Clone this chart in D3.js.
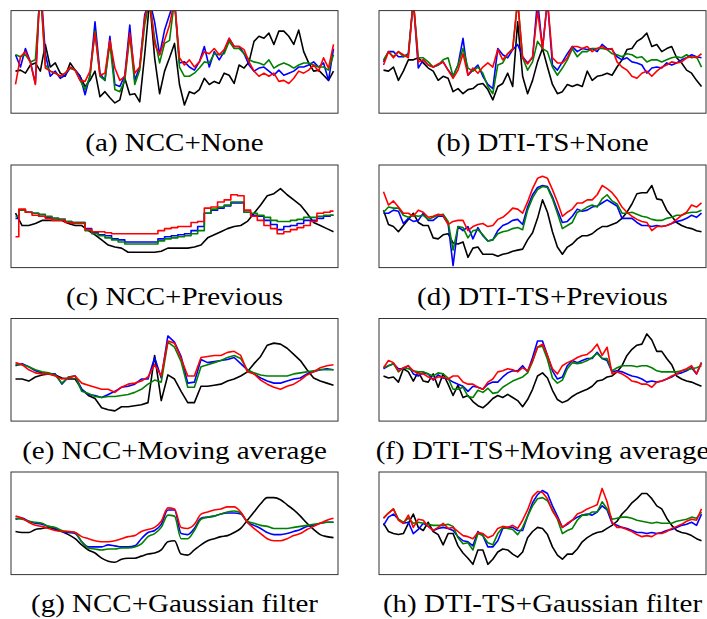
<!DOCTYPE html>
<html>
<head>
<meta charset="utf-8">
<script src="https://cdn.jsdelivr.net/npm/d3@7"></script>
<style>
  html, body { margin: 0; padding: 0; background: #fff; }
  svg { display: block; }
</style>
</head>
<body>
<svg id="chart" width="707" height="619"></svg>
<script>
// Similarity score per frame (0-100 scale, values above 100 run off the top of a panel).
// Series order in every panel: reference (black), blue, green, red.

// (a) NCC + None
const nccNoneBlack = [41,42,39,47,49,41,67,45,49,39,36,49,42,36,26,32,41,16,21,15,10,13,34,18,19,11,57,110,54,19,41,54,68,28,8,21,19,23,34,28,31,29,39,37,29,47,44,50,70,75,73,78,67,80,80,75,67,81,60,49,41,42,37,32,41];
const nccNoneBlue  = [57,45,63,50,29,130,58,36,41,34,37,44,42,36,18,37,89,39,32,75,28,26,37,86,32,45,96,110,89,57,81,96,110,49,50,45,42,50,65,45,60,52,60,73,65,65,58,47,41,44,45,41,37,42,37,39,41,45,45,47,50,45,49,32,63];
const nccNoneGreen = [57,55,57,50,52,120,47,41,39,36,39,44,42,32,23,36,80,36,32,68,23,21,32,76,28,42,86,110,73,49,68,71,110,45,36,36,39,44,50,49,58,57,58,70,63,63,58,52,50,49,47,52,44,47,49,47,44,47,49,49,47,45,45,42,57];
const nccNoneRed   = [28,55,60,49,28,130,44,41,39,36,39,45,42,32,31,41,78,37,39,71,44,32,36,78,39,45,93,110,67,57,71,86,110,54,47,52,45,50,60,58,63,57,62,73,65,65,62,50,41,36,39,36,39,31,32,29,34,41,39,42,47,41,54,44,67];

// (b) DTI-TS + None
const dtiNoneBlack = [42,41,45,32,41,52,52,54,49,44,41,32,36,34,21,24,19,23,24,28,29,23,13,26,29,39,26,89,36,19,32,50,63,45,28,19,21,28,26,28,26,41,32,36,37,39,37,45,52,62,63,70,73,78,65,67,60,63,65,54,49,42,39,32,26];
const dtiNoneBlue  = [50,60,60,55,55,58,110,44,52,47,45,47,50,42,36,47,73,37,42,47,36,28,24,63,57,54,62,67,55,49,54,110,63,110,47,42,50,58,65,60,63,62,63,60,67,63,62,55,52,54,50,49,47,39,44,45,44,49,47,49,52,54,57,55,54];
const dtiNoneGreen = [52,60,55,60,55,57,110,54,54,50,45,47,52,54,36,47,63,44,41,45,39,26,19,47,49,58,63,110,54,42,50,70,63,60,45,37,44,52,63,55,60,60,63,63,63,62,58,57,55,58,57,54,55,50,52,52,50,52,54,55,54,57,54,55,45];
const dtiNoneRed   = [47,60,54,60,57,54,110,50,52,47,45,48,50,42,34,42,58,37,44,39,45,49,45,62,52,58,62,110,54,48,55,100,63,110,54,49,49,54,65,65,63,65,60,63,65,62,63,50,45,42,36,34,39,41,36,41,45,47,50,49,50,54,55,54,58];

// (c) NCC + Previous
const nccPrevBlack = [53,41,41,43,46,46,46,46,43,41,41,36,32,27,22,20,19,15,15,15,15,15,16,19,19,19,19,20,22,29,32,35,38,40,41,45,53,61,70,72,77,71,66,61,53,44,41,38,35];
const nccPrevBlue  = [48,56,54,53,50,49,48,47,45,44,44,38,34,32,31,28,27,25,25,25,25,25,28,30,31,32,33,36,40,53,56,58,60,63,63,54,51,50,46,42,37,40,41,43,46,46,48,50,51];
const nccPrevGreen = [50,56,54,53,52,50,48,47,45,44,44,36,33,31,29,27,25,23,23,23,23,23,26,28,29,30,31,33,36,53,57,59,61,64,64,54,53,51,49,46,45,45,46,47,49,49,50,51,51];
const nccPrevRed   = [30,57,54,51,50,48,46,46,44,43,43,37,35,35,34,33,33,33,33,33,33,33,36,38,39,40,40,44,45,58,59,64,66,71,70,56,50,46,41,38,33,35,37,39,41,45,53,54,55];

// (d) DTI-TS + Previous
const dtiPrevBlack = [56,42,40,35,41,47,53,44,41,41,29,28,32,33,24,23,25,10,19,20,13,13,13,11,13,14,16,17,18,27,34,48,66,54,35,20,13,20,23,28,31,31,33,37,40,40,42,44,48,54,62,72,73,73,80,67,66,56,50,44,41,39,38,36,35];
const dtiPrevBlue  = [53,53,56,55,43,48,45,46,53,46,46,50,50,43,2,40,36,40,28,39,31,26,27,36,41,43,46,47,42,59,71,78,80,79,69,56,44,45,50,57,55,56,59,60,63,66,63,60,48,48,48,44,41,41,40,41,40,41,43,45,46,48,51,49,53];
const dtiPrevGreen = [54,59,58,58,51,49,51,50,51,47,49,51,52,45,17,40,39,29,36,37,32,26,27,33,35,36,38,39,37,56,68,76,79,78,67,53,38,41,44,54,56,59,61,59,67,71,65,62,53,53,54,52,50,49,47,46,46,48,49,51,51,53,54,54,56];
const dtiPrevRed   = [74,61,65,59,53,53,50,56,54,49,50,52,51,42,45,46,46,36,40,42,43,40,41,47,49,53,58,57,53,64,77,87,89,87,76,64,50,54,57,63,63,66,66,71,80,77,73,67,59,54,50,47,45,44,36,40,40,41,43,47,51,54,61,59,63];

// (e) NCC + Moving average
const nccMavgBlack = [41,41,39,43,45,46,45,42,41,41,31,25,22,13,11,10,14,14,15,16,18,64,20,45,41,29,18,18,34,34,35,36,39,41,44,48,56,63,74,76,75,71,65,59,50,42,39,37,35];
const nccMavgBlue  = [54,56,53,49,47,46,46,36,43,44,31,26,25,23,26,29,33,34,36,41,41,62,42,83,77,63,37,38,60,57,58,59,60,62,56,50,46,42,39,37,37,39,41,42,46,48,50,51,50];
const nccMavgGreen = [55,55,53,50,48,47,45,37,43,44,29,27,24,23,24,24,25,26,28,31,36,40,38,77,72,58,33,33,53,55,57,59,62,64,61,50,47,45,44,44,44,44,46,47,48,49,50,50,50];
const nccMavgRed   = [57,55,50,47,46,46,44,41,42,44,37,35,33,31,31,28,33,36,37,39,43,55,44,78,76,61,44,44,62,63,64,64,67,68,64,48,46,40,36,33,31,34,36,40,45,48,52,54,55];

// (f) DTI-TS + Moving average
const dtiMavgBlack = [44,42,43,38,51,48,39,48,39,38,46,33,46,36,25,35,23,25,19,15,13,17,22,25,23,26,23,20,14,21,31,44,47,42,30,21,18,20,24,27,29,31,34,39,40,43,44,48,54,64,70,74,75,85,79,68,68,61,55,44,41,39,38,36,34];
const dtiMavgBlue  = [51,54,56,51,51,54,46,44,47,46,40,45,42,41,38,36,34,29,34,33,31,36,38,38,43,47,49,49,54,48,62,78,78,64,49,41,43,54,59,57,59,61,61,67,61,59,48,49,48,46,44,43,41,38,39,38,39,41,43,46,47,49,52,46,57];
const dtiMavgGreen = [52,54,56,48,52,51,49,48,48,46,44,47,46,42,31,31,33,24,23,30,28,32,27,28,33,36,39,41,43,47,58,72,73,60,42,37,40,51,57,56,57,59,62,66,61,61,49,52,54,54,54,53,54,54,52,49,48,48,48,48,49,50,51,52,54];
const dtiMavgRed   = [52,59,57,49,52,54,49,46,46,43,41,43,43,41,44,44,38,36,36,33,31,38,41,48,49,51,50,48,52,49,59,72,75,64,51,46,54,57,59,62,64,65,69,75,64,72,46,48,46,43,39,38,36,36,33,38,39,41,44,46,49,51,54,46,57];

// (g) NCC + Gaussian filter
const nccGaussBlack = [42,41,41,44,45,46,44,42,39,35,29,24,21,16,13,12,15,16,16,18,20,21,24,32,33,20,19,24,29,33,35,37,38,41,45,53,61,69,75,75,73,68,63,57,50,44,39,37,36];
const nccGaussBlue  = [54,55,52,50,49,47,45,42,41,40,32,27,27,27,29,28,27,27,28,35,41,43,49,63,63,40,39,45,55,56,57,59,60,60,59,51,48,45,41,39,39,40,42,44,47,48,50,51,51];
const nccGaussGreen = [55,54,52,51,50,47,46,43,42,41,32,26,25,24,25,25,26,26,27,30,37,40,46,58,57,35,35,43,54,56,57,59,61,62,60,52,50,48,47,45,45,45,46,47,48,49,50,51,51];
const nccGaussRed   = [57,55,51,48,47,45,43,42,42,41,37,35,33,32,32,33,35,37,38,42,44,46,52,65,64,46,45,49,59,61,63,64,66,66,61,51,45,40,35,33,33,35,38,40,44,47,50,53,55];

// (h) DTI-TS + Gaussian filter
const dtiGaussBlack = [50,42,40,39,40,50,59,46,43,51,42,39,29,40,40,28,21,16,10,24,24,10,15,22,25,24,20,17,22,36,42,46,45,39,27,19,15,20,20,25,32,36,39,41,42,45,48,52,59,64,70,74,79,79,74,67,64,55,48,43,41,40,38,35,33];
const dtiGaussBlue  = [48,56,59,54,50,51,40,44,50,47,43,45,46,45,43,37,33,32,28,42,38,27,27,33,45,46,46,43,43,57,70,78,82,79,67,57,46,49,53,56,58,59,58,61,67,63,50,48,46,45,43,41,41,40,41,40,41,43,44,46,48,49,51,48,59];
const dtiGaussGreen = [55,60,64,54,51,55,50,51,50,49,48,48,48,49,47,36,30,31,24,40,38,31,29,40,46,45,44,39,46,57,67,74,75,72,63,54,40,43,45,53,58,58,61,61,71,64,54,55,56,56,55,53,52,51,50,51,50,50,50,52,53,54,56,55,61];
const dtiGaussRed   = [55,60,64,53,50,58,46,54,53,47,43,46,50,45,46,42,38,37,35,41,40,36,38,45,47,46,48,45,53,63,76,81,80,74,62,55,46,50,53,59,61,64,66,68,84,71,51,46,46,44,42,39,37,38,37,40,40,42,45,47,49,52,54,53,64];

const captions = [
  "(a) NCC+None", "(b) DTI-TS+None",
  "(c) NCC+Previous", "(d) DTI-TS+Previous",
  "(e) NCC+Moving average", "(f) DTI-TS+Moving average",
  "(g) NCC+Gaussian filter", "(h) DTI-TS+Gaussian filter"
];

const panelSeries = [
  [nccNoneBlack, nccNoneBlue, nccNoneGreen, nccNoneRed],
  [dtiNoneBlack, dtiNoneBlue, dtiNoneGreen, dtiNoneRed],
  [nccPrevBlack, nccPrevBlue, nccPrevGreen, nccPrevRed],
  [dtiPrevBlack, dtiPrevBlue, dtiPrevGreen, dtiPrevRed],
  [nccMavgBlack, nccMavgBlue, nccMavgGreen, nccMavgRed],
  [dtiMavgBlack, dtiMavgBlue, dtiMavgGreen, dtiMavgRed],
  [nccGaussBlack, nccGaussBlue, nccGaussGreen, nccGaussRed],
  [dtiGaussBlack, dtiGaussBlue, dtiGaussGreen, dtiGaussRed]
];

const seriesColors = ["#000000", "#0000ff", "#008000", "#ff0000"];

// Layout: 2 columns x 4 rows of small framed plots, caption under each.
const colLeft = [11, 379];
const panelW = 327;
const rowTop = [10.6, 165, 318.5, 472];
const panelH = 102.6;
const xPad = 4.5;
const captionGap = 37.5;

// Tracked NCC curves with "Previous" hold their last value, so they read as a
// staircase; the Gaussian-filtered NCC curves are smooth; the rest are polylines.
function curveFor(p, s) {
  if (p === 2 && s > 0) return d3.curveStep;
  if (p === 6) return d3.curveMonotoneX;
  return d3.curveLinear;
}

const svg = d3.select("#chart");

panelSeries.forEach((series, p) => {
  const col = p % 2, row = Math.floor(p / 2);
  const left = colLeft[col], top = rowTop[row];
  const n = series[0].length;

  const x = d3.scaleLinear().domain([0, n - 1]).range([left + xPad, left + panelW - xPad]);
  const y = d3.scaleLinear().domain([0, 100]).range([top + panelH, top]);

  const clipId = "clip" + p;
  svg.append("clipPath").attr("id", clipId)
    .append("rect").attr("x", left).attr("y", top).attr("width", panelW).attr("height", panelH);

  const g = svg.append("g").attr("clip-path", `url(#${clipId})`);

  series.forEach((vals, s) => {
    const line = d3.line()
      .x((d, i) => x(i))
      .y(d => y(d))
      .curve(curveFor(p, s));
    g.append("path")
      .datum(vals)
      .attr("d", line)
      .attr("fill", "none")
      .attr("stroke", seriesColors[s])
      .attr("stroke-width", 1.6)
      .attr("stroke-linejoin", "round");
  });

  svg.append("rect")
    .attr("x", left).attr("y", top)
    .attr("width", panelW).attr("height", panelH)
    .attr("fill", "none")
    .attr("stroke", "#333")
    .attr("stroke-width", 1);

  const t = svg.append("text")
    .attr("x", left + panelW / 2)
    .attr("y", top + panelH + captionGap)
    .attr("text-anchor", "middle")
    .attr("font-family", "'Liberation Serif', 'Times New Roman', serif")
    .attr("font-size", 25)
    .attr("fill", "#000")
    .text(captions[p]);
  const natural = t.node().getComputedTextLength();
  t.attr("textLength", natural * 1.16).attr("lengthAdjust", "spacingAndGlyphs");
});
</script>
</body>
</html>
